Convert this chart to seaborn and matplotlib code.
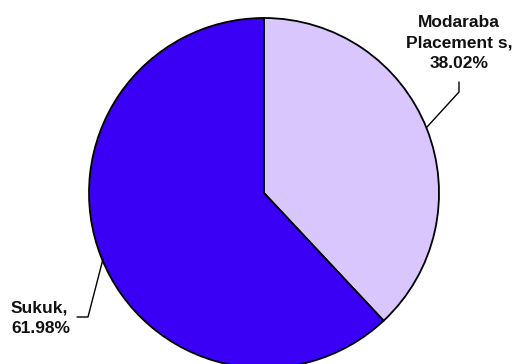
"""Pie chart of Sukuk vs Modaraba placements."""

import matplotlib

matplotlib.use("Agg")
import matplotlib.pyplot as plt
import seaborn as sns


CATEGORIES = ["Modaraba\nPlacement s", "Sukuk"]
SHARES = [38.02, 61.98]
COLORS = ["#d9c6fc", "#3a00f6"]

W, H = 515, 364
CX, CY, R = 264, 193, 175


def px(x, y):
    """Pixel position -> data coords (pie unit radius)."""
    return (x - CX) / R, (CY - y) / R


def main() -> None:
    sns.set_theme(style="white")
    plt.rcParams["font.family"] = ["Liberation Sans", "DejaVu Sans"]

    fig = plt.figure(figsize=(W / 100, H / 100), dpi=100)
    ax = fig.add_axes([0, 0, 1, 1])
    ax.pie(
        SHARES,
        colors=COLORS,
        startangle=90,
        counterclock=False,
        wedgeprops={"edgecolor": "black", "linewidth": 1.3},
    )
    ax.set_aspect("auto")
    ax.set_xlim(-CX / R, (W - CX) / R)
    ax.set_ylim(-(H - CY) / R, CY / R)
    ax.axis("off")

    labels = [f"{c},\n{v:.2f}%" for c, v in zip(CATEGORIES, SHARES)]
    style = dict(fontsize=12.5, fontweight="bold", color="#111111", linespacing=1.45)

    ax.text(*px(459, 43), labels[0], ha="center", va="center", **style)
    ax.text(*px(11, 318), labels[1], ha="left", va="center", **style)

    line = dict(color="black", lw=1.0)
    p = [px(459, 82), px(459, 92), px(427, 127)]
    ax.plot([q[0] for q in p], [q[1] for q in p], **line)
    p = [px(77, 317), px(88, 317), px(103, 259)]
    ax.plot([q[0] for q in p], [q[1] for q in p], **line)

    fig.savefig("out.png", dpi=100)
    plt.close(fig)


if __name__ == "__main__":
    main()
